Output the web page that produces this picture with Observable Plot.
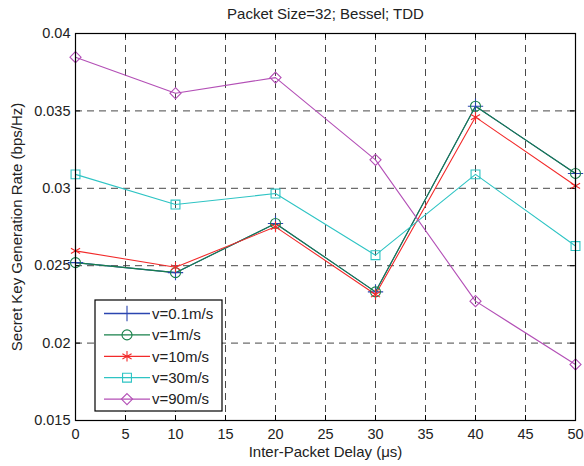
<!DOCTYPE html>
<html>
<head>
<meta charset="utf-8">
<script src="https://cdn.jsdelivr.net/npm/d3@7"></script>
<script src="https://cdn.jsdelivr.net/npm/@observablehq/plot@0.6"></script>
<style>
  body { margin: 0; background: white; }
</style>
</head>
<body>
<div id="chart"></div>
<script>
// ---- data ----
const delays = [0, 10, 20, 30, 40, 50];
const v01 = [0.0252, 0.02455, 0.02773, 0.02331, 0.0353, 0.03096];
const v1 = [0.0252, 0.02455, 0.02773, 0.02331, 0.0353, 0.03096];
const v10 = [0.02596, 0.0249, 0.02751, 0.02314, 0.0346, 0.03016];
const v30 = [0.0309, 0.02895, 0.02966, 0.02568, 0.0309, 0.02627];
const v90 = [0.03847, 0.03614, 0.03715, 0.03184, 0.02271, 0.01862];
const seriesNames = ["v=0.1m/s", "v=1m/s", "v=10m/s", "v=30m/s", "v=90m/s"];
const seriesValues = [v01, v1, v10, v30, v90];
const seriesColors = ["#2b45b0", "#17804a", "#f22a2a", "#2ec4c4", "#b34fb6"];
const seriesSymbols = ["plus", "circle", "asterisk", "square", "diamond2"];
const xTicks = [0, 5, 10, 15, 20, 25, 30, 35, 40, 45, 50];
const yTicks = [0.015, 0.02, 0.025, 0.03, 0.035, 0.04];
const title = "Packet Size=32; Bessel; TDD";
const xLabel = "Inter-Packet Delay (\u03bcs)";
const yLabel = "Secret Key Generation Rate (bps/Hz)";

const data = seriesNames.flatMap((name, k) =>
  delays.map((d, i) => ({delay: d, rate: seriesValues[k][i], name}))
);

const font = "'Liberation Sans', Arial, Helvetica, sans-serif";
const gridStyle = {stroke: "#333", strokeWidth: 0.9, strokeDasharray: "7,5"};

const chart = Plot.plot({
  width: 584,
  height: 466,
  marginLeft: 75,
  marginRight: 9,
  marginTop: 33,
  marginBottom: 46,
  style: {fontFamily: font, fontSize: "14.5px", background: "white", color: "#222"},
  x: {domain: [0, 50]},
  y: {domain: [0.015, 0.04]},
  color: {domain: seriesNames, range: seriesColors},
  symbol: {domain: seriesNames, range: seriesSymbols},
  marks: [
    Plot.ruleX(xTicks.slice(1, -1), gridStyle),
    Plot.ruleY(yTicks.slice(1, -1), gridStyle),
    // inward tick marks on all sides
    Plot.ruleX(xTicks, {y1: 0.015, y2: 0.01532, stroke: "black"}),
    Plot.ruleX(xTicks, {y1: 0.04, y2: 0.03968, stroke: "black"}),
    Plot.ruleY(yTicks, {x1: 0, x2: 0.5, stroke: "black"}),
    Plot.ruleY(yTicks, {x1: 50, x2: 49.5, stroke: "black"}),
    Plot.line(data, {x: "delay", y: "rate", z: "name", stroke: "name", strokeWidth: 1.1}),
    Plot.dot(data, {x: "delay", y: "rate", stroke: "name", symbol: "name", r: 5, fill: "none", strokeWidth: 1.1}),
    Plot.frame({stroke: "black", strokeWidth: 1.2}),
    Plot.axisX({ticks: xTicks, tickSize: 0, tickPadding: 8, label: null, fontSize: 14.5, tickFormat: d => String(d)}),
    Plot.axisY({ticks: yTicks, tickSize: 0, tickPadding: 5, label: null, fontSize: 14.5, tickFormat: d => String(+d.toFixed(3))}),
    Plot.text([title], {text: d => d, frameAnchor: "top", dy: -19, fontSize: 15, textAnchor: "middle", lineAnchor: "middle"}),
    Plot.text([xLabel], {text: d => d, frameAnchor: "bottom", dy: 32, fontSize: 15, textAnchor: "middle", lineAnchor: "middle"}),
    Plot.text([yLabel], {text: d => d, frameAnchor: "left", dx: -58, rotate: -90, fontSize: 15, textAnchor: "middle", lineAnchor: "middle"})
  ]
});

document.getElementById("chart").appendChild(chart);

// ---- legend (inside plot, lower-left) ----
const svg = d3.select(chart);
const lg = svg.append("g").attr("font-family", font).attr("font-size", 15).attr("text-anchor", "start");
const bx = 95, by = 300, bw = 127, bh = 111;
lg.append("rect").attr("x", bx).attr("y", by).attr("width", bw).attr("height", bh)
  .attr("fill", "white").attr("stroke", "black").attr("stroke-width", 1.2);
const symMap = {plus: d3.symbolPlus, circle: d3.symbolCircle, asterisk: d3.symbolAsterisk, square: d3.symbolSquare, diamond2: d3.symbolDiamond2};
seriesNames.forEach((name, i) => {
  const yy = by + 13.5 + i * 21.4;
  lg.append("line").attr("x1", bx + 9).attr("x2", bx + 55).attr("y1", yy).attr("y2", yy)
    .attr("stroke", seriesColors[i]).attr("stroke-width", 1.3);
  lg.append("path").attr("d", d3.symbol(symMap[seriesSymbols[i]], Math.PI * 25)())
    .attr("transform", `translate(${bx + 32},${yy})`)
    .attr("fill", "none").attr("stroke", seriesColors[i]).attr("stroke-width", 1.1);
  lg.append("text").attr("x", bx + 57).attr("y", yy).attr("dy", "0.35em")
    .attr("text-anchor", "start").attr("fill", "#222").text(name);
});
</script>
</body>
</html>
